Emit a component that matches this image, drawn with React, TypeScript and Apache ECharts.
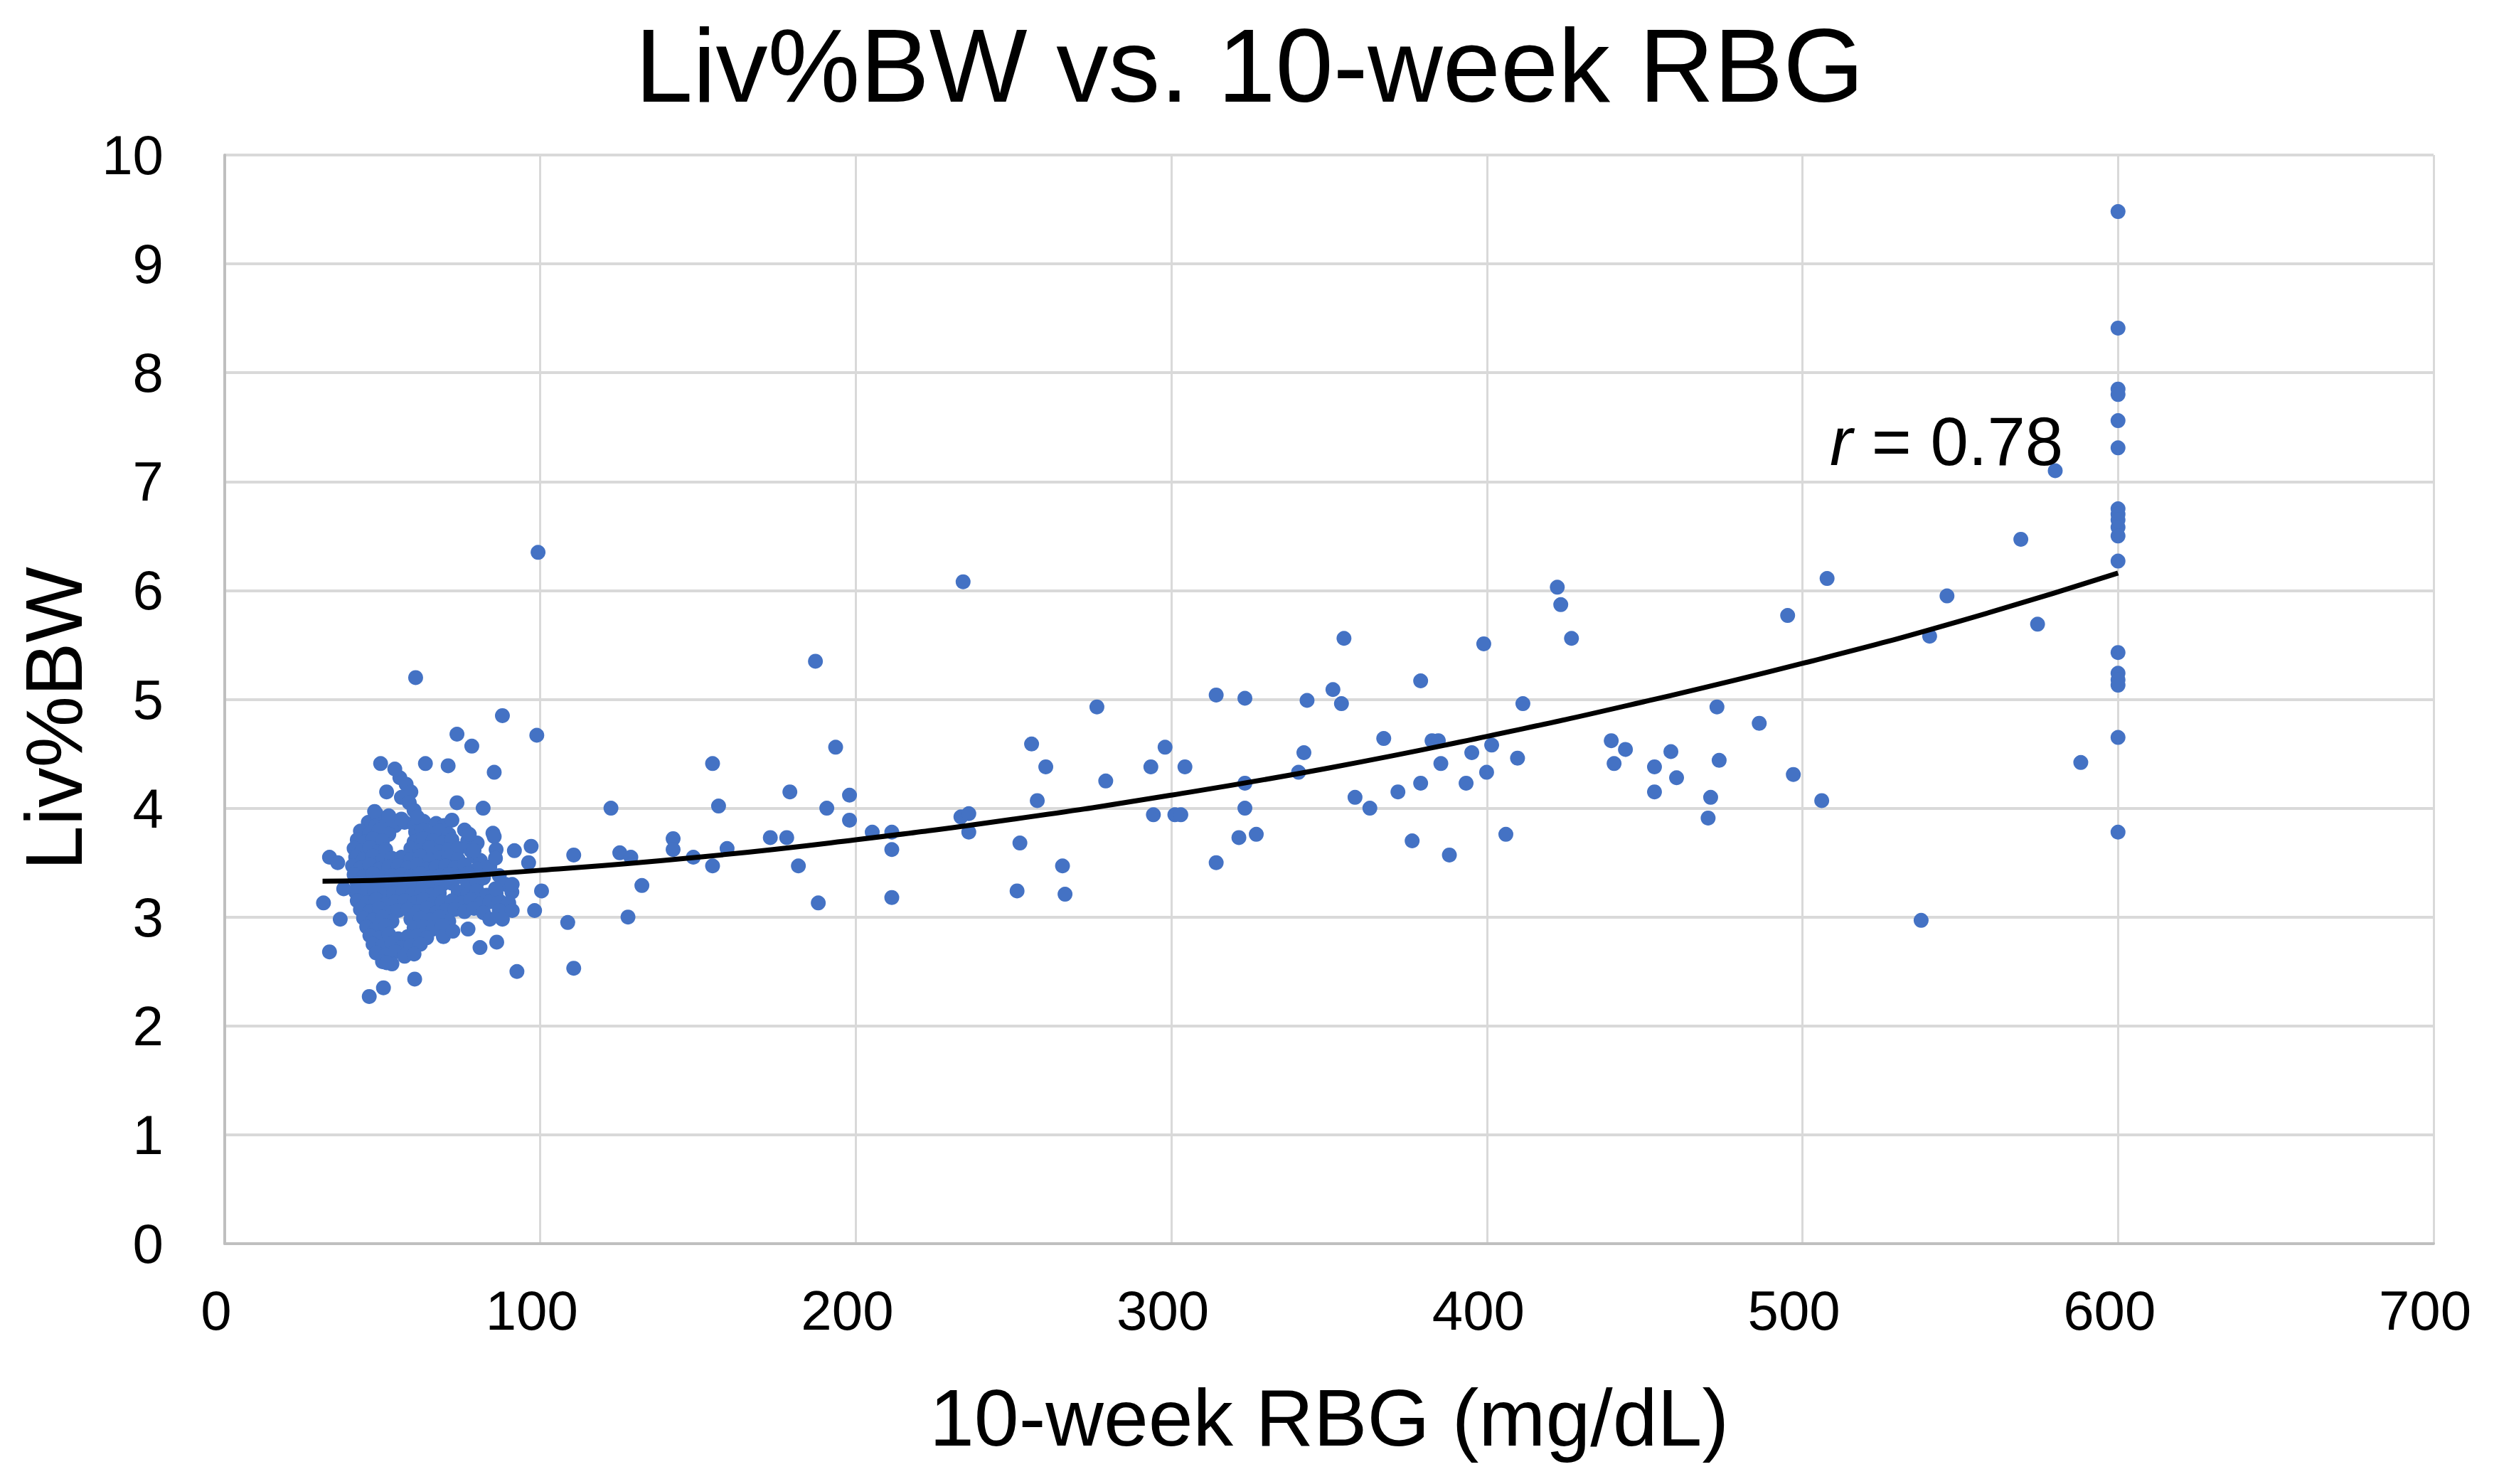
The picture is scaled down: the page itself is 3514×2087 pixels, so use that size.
import React, { useEffect, useRef } from "react";
import * as echarts from "echarts";

const TITLE = "Liv%BW vs. 10-week RBG";
const X_NAME = "10-week RBG (mg/dL)";
const Y_NAME = "Liv%BW";

// dense low-glucose cluster (x ≈ 40–92 mg/dL)
const clusterPoints: number[][] = [
  [45.5, 3.87], [48, 3.85], [51, 3.88], [54, 3.84], [57, 3.87], [60, 3.85], [63, 3.88], [67, 3.86], [69.5, 3.84], [72, 3.89],
  [43, 3.79], [46, 3.77], [49, 3.8], [52, 3.76], [60.5, 3.78], [62.5, 3.8], [65, 3.77], [68, 3.79], [71, 3.76], [76, 3.8], [85, 3.77],
  [42, 3.71], [44.5, 3.69], [47, 3.72], [50, 3.7], [60, 3.69], [63, 3.72], [66, 3.7], [69, 3.68], [72, 3.71], [77, 3.7], [80, 3.68],
  [41, 3.63], [43.5, 3.61], [46, 3.64], [48.5, 3.6], [51, 3.62], [59, 3.63], [62, 3.61], [65, 3.64], [68, 3.6], [71, 3.62], [74, 3.63], [78, 3.61], [86, 3.62],
  [41.5, 3.55], [44, 3.53], [47, 3.56], [50, 3.52], [53, 3.54], [56, 3.55], [59, 3.53], [62, 3.56], [65, 3.52], [68, 3.54], [71, 3.55], [74, 3.53], [79, 3.56], [81, 3.52],
  [40.5, 3.47], [43, 3.45], [46, 3.48], [49, 3.44], [52, 3.46], [55, 3.47], [58, 3.45], [61, 3.48], [64, 3.44], [67, 3.46], [70, 3.47], [73, 3.45], [76, 3.48], [80, 3.44], [84, 3.46],
  [41, 3.39], [44, 3.37], [47, 3.4], [50, 3.36], [53, 3.38], [56, 3.39], [59, 3.37], [62, 3.4], [65, 3.36], [68, 3.38], [71, 3.39], [74, 3.37], [77, 3.4], [82, 3.36], [87, 3.38],
  [42, 3.31], [45, 3.29], [48, 3.32], [51, 3.28], [54, 3.3], [57, 3.31], [60, 3.29], [63, 3.32], [66, 3.28], [69, 3.3], [72, 3.31], [77, 3.29], [80, 3.32], [89, 3.3],
  [41.5, 3.23], [44.5, 3.21], [47.5, 3.24], [50.5, 3.2], [53.5, 3.22], [56.5, 3.23], [59.5, 3.21], [62.5, 3.24], [65.5, 3.2], [68, 3.22], [74, 3.23], [77, 3.21], [80, 3.24], [83, 3.2], [86, 3.22], [91, 3.23],
  [42, 3.15], [45, 3.13], [48, 3.16], [51, 3.12], [54, 3.14], [57, 3.15], [60, 3.13], [63, 3.16], [66, 3.12], [69, 3.14], [72, 3.15], [75, 3.13], [78, 3.16], [81, 3.12], [84, 3.14], [87, 3.15], [90, 3.13],
  [43, 3.07], [46, 3.05], [49, 3.08], [52, 3.04], [55, 3.06], [58, 3.07], [61, 3.05], [64, 3.08], [67, 3.04], [70, 3.06], [73, 3.07], [76, 3.05], [79, 3.08], [82, 3.04], [87, 3.06],
  [44, 2.99], [47, 2.97], [50, 3.0], [53, 2.96], [59, 2.98], [62, 2.99], [65, 2.97], [68, 3.0], [71, 2.96], [84, 2.98],
  [45, 2.91], [48, 2.89], [51, 2.92], [60, 2.9], [63, 2.91], [66, 2.89], [69, 2.92],
  [46, 2.83], [49, 2.81], [52, 2.84], [55, 2.8], [58, 2.82], [61, 2.83], [64, 2.81],
  [47, 2.75], [50, 2.73], [53, 2.76], [56, 2.72], [59, 2.74], [62, 2.75],
  [48, 2.67], [51, 2.65], [54, 2.68], [57, 2.64], [60, 2.66],
  [50, 2.59], [53, 2.57],
  [55.5, 4.28], [57.5, 4.22], [59, 4.15], [56, 4.1], [58.5, 4.05], [60, 3.98], [61, 3.92], [48, 3.95], [52, 3.93], [56, 3.9],
];

// scattered points around the cluster (x < 115)
const lowPoints: number[][] = [
  [88.0, 4.85], [73.6, 4.68], [98.9, 4.67], [78.3, 4.57], [49.4, 4.41], [53.9, 4.36], [63.6, 4.41], [70.8, 4.39], [85.4, 4.33],
  [51.3, 4.15], [47.5, 3.97], [81.9, 4.0], [73.6, 4.05], [110.6, 3.57], [33.2, 3.55], [35.8, 3.5], [31.3, 3.13], [37.7, 3.26],
  [36.6, 2.98], [33.2, 2.68], [108.7, 2.95], [110.6, 2.53], [92.6, 2.5], [80.9, 2.72], [86.2, 2.77], [60.2, 2.43], [50.3, 2.35],
  [45.8, 2.27], [51.3, 2.58], [77.1, 2.89], [100.4, 3.24], [98.2, 3.06], [91.1, 3.06], [88.0, 2.98], [97.1, 3.65], [91.8, 3.61],
  [85.4, 3.74], [85.8, 3.54], [96.3, 3.5], [91.1, 3.3], [85.8, 3.26], [77.5, 3.76], [79.0, 3.61], [69.3, 2.82], [72.3, 2.87],
  [99.3, 6.35], [60.5, 5.2],
];

// 115–270 mg/dL
const midPoints: number[][] = [
  [234.0, 6.08], [187.2, 5.35], [193.6, 4.56], [154.6, 4.41], [122.4, 4.0], [156.5, 4.02], [179.1, 4.15], [190.8, 4.0],
  [198.0, 4.12], [198.0, 3.89], [255.7, 4.59], [260.2, 4.38], [257.5, 4.07], [233.3, 3.92], [235.8, 3.95], [235.8, 3.78],
  [205.2, 3.78], [211.4, 3.78], [211.4, 3.62], [252.0, 3.68], [265.5, 3.47], [251.1, 3.24], [266.3, 3.21], [211.4, 3.18],
  [188.1, 3.13], [181.8, 3.47], [178.1, 3.73], [172.9, 3.73], [159.2, 3.63], [154.6, 3.47], [148.5, 3.55], [142.1, 3.72],
  [142.1, 3.62], [125.2, 3.59], [128.7, 3.55], [132.2, 3.29], [127.8, 3.0],
];

// 270–425 mg/dL
const upperPoints: number[][] = [
  [422.3, 6.03], [423.4, 5.87], [354.7, 5.56], [399.0, 5.51], [379.0, 5.17], [351.2, 5.09], [276.4, 4.93], [314.2, 5.04],
  [323.3, 5.01], [343.0, 4.99], [353.9, 4.96], [411.4, 4.96], [367.3, 4.64], [382.6, 4.62], [384.6, 4.62], [401.5, 4.58],
  [395.2, 4.51], [298.0, 4.56], [342.0, 4.51], [385.4, 4.41], [409.7, 4.46], [293.5, 4.38], [304.3, 4.38], [340.3, 4.33],
  [279.2, 4.25], [323.3, 4.23], [379.0, 4.23], [393.4, 4.23], [399.9, 4.33], [371.8, 4.15], [358.2, 4.1], [362.9, 4.0],
  [323.3, 4.0], [294.3, 3.94], [301.1, 3.94], [303.0, 3.94], [321.4, 3.73], [326.9, 3.76], [376.3, 3.7], [406.0, 3.76],
  [388.1, 3.57], [314.2, 3.5],
];

// 425–600 mg/dL
const highPoints: number[][] = [
  [569.2, 6.47], [507.8, 6.11], [545.8, 5.95], [495.3, 5.77], [574.5, 5.69], [540.3, 5.58], [426.8, 5.56], [472.9, 4.93],
  [486.3, 4.78], [439.4, 4.62], [443.9, 4.54], [440.3, 4.41], [458.3, 4.52], [453.1, 4.38], [473.6, 4.44], [460.1, 4.28],
  [497.1, 4.31], [453.1, 4.15], [470.9, 4.1], [470.1, 3.91], [506.1, 4.07], [537.6, 2.97], [580.1, 7.1], [588.2, 4.42],
];

// readings capped at 600 mg/dL
const cappedY: number[] = [9.48, 8.41, 7.85, 7.8, 7.56, 7.31, 6.75, 6.7, 6.65, 6.58, 6.5, 6.27, 5.43, 5.24, 5.18, 5.13, 4.65, 3.78];
const CAP_X = 600;

// trend line
const trendX: number[] = [31, 50, 100, 150, 200, 250, 300, 350, 400, 450, 500, 550, 600];
const trendY: number[] = [3.33, 3.34, 3.43, 3.55, 3.71, 3.9, 4.12, 4.37, 4.66, 4.98, 5.33, 5.72, 6.16];

const R_LABEL = "r";
const R_VALUE = " = 0.78";

const FONT = "'Liberation Sans', Arial, Helvetica, sans-serif";
const DOT = "#4472C4";

export default function App() {
  const ref = useRef<HTMLDivElement>(null);

  useEffect(() => {
    document.body.style.margin = "0";
    const chart = echarts.init(ref.current!, null, { renderer: "svg" });

    const allPoints = [
      ...clusterPoints,
      ...lowPoints,
      ...midPoints,
      ...upperPoints,
      ...highPoints,
      ...cappedY.map((y) => [CAP_X, y]),
    ];

    chart.setOption({
      animation: false,
      backgroundColor: "#ffffff",
      textStyle: { fontFamily: FONT },
      title: {
        text: TITLE,
        left: "center",
        top: 14,
        textStyle: { fontSize: 146, fontWeight: "normal", color: "#000", fontFamily: FONT },
      },
      grid: { left: 316, right: 92, top: 218, bottom: 338, containLabel: false },
      xAxis: {
        type: "value",
        min: 0,
        max: 700,
        interval: 100,
        name: X_NAME,
        nameLocation: "middle",
        nameGap: 188,
        nameTextStyle: { fontSize: 113, color: "#000", fontFamily: FONT },
        axisLine: { show: true, lineStyle: { color: "#bfbfbf", width: 4 } },
        axisTick: { show: false },
        axisLabel: { fontSize: 78, color: "#000", margin: 55, fontFamily: FONT, padding: [0, 24, 0, 0] },
        splitLine: { show: true, lineStyle: { color: "#d9d9d9", width: 3 } },
      },
      yAxis: {
        type: "value",
        min: 0,
        max: 10,
        interval: 1,
        name: Y_NAME,
        nameLocation: "middle",
        nameGap: 184,
        nameTextStyle: { fontSize: 113, color: "#000", fontFamily: FONT, padding: [0, 54, 0, 0] },
        axisLine: { show: true, lineStyle: { color: "#bfbfbf", width: 4 } },
        axisTick: { show: false },
        axisLabel: { fontSize: 78, color: "#000", margin: 86, fontFamily: FONT },
        splitLine: { show: true, lineStyle: { color: "#d9d9d9", width: 4 } },
      },
      series: [
        {
          type: "scatter",
          data: allPoints,
          symbol: "circle",
          symbolSize: 21,
          itemStyle: { color: DOT, opacity: 1 },
          z: 2,
        },
        {
          type: "line",
          data: trendX.map((x, i) => [x, trendY[i]]),
          smooth: true,
          showSymbol: false,
          symbol: "none",
          lineStyle: { color: "#000", width: 7 },
          z: 3,
        },
      ],
      graphic: [
        {
          type: "text",
          x: 2573,
          y: 620,
          style: {
            text: `{i|${R_LABEL}}{n|${R_VALUE}}`,
            verticalAlign: "middle",
            align: "left",
            rich: {
              i: { fontSize: 96, fontStyle: "italic", fontFamily: FONT, fill: "#000" },
              n: { fontSize: 96, fontFamily: FONT, fill: "#000" },
            },
          },
          z: 10,
        },
      ],
    });

    return () => chart.dispose();
  }, []);

  return <div ref={ref} style={{ width: 3514, height: 2087 }} />;
}
